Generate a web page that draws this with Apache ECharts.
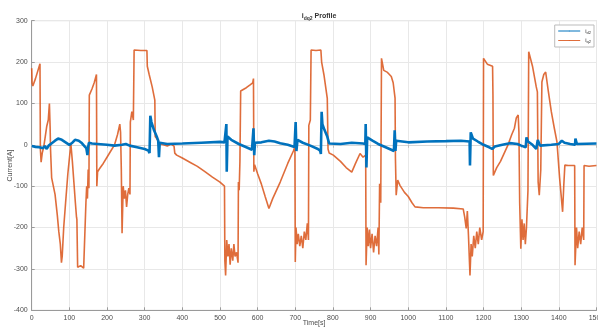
<!DOCTYPE html>
<html>
<head>
<meta charset="utf-8">
<script src="https://cdn.jsdelivr.net/npm/echarts@6/dist/echarts.min.js"></script>
<style>
  html, body { margin: 0; padding: 0; background: #fff; }
  #chart { width: 598px; height: 329px; }
</style>
</head>
<body>
<div id="chart"></div>
<script>
// tick labels
var xTicks = [0, 100, 200, 300, 400, 500, 600, 700, 800, 900, 1000, 1100, 1200, 1300, 1400, 1500];
var yTicks = [-400, -300, -200, -100, 0, 100, 200, 300];

// i_q2 (orange) : time / value
var qTime = [0, 1, 3, 10, 22, 23, 25, 28, 32, 36, 40, 44, 47, 49, 50, 53, 57, 62, 68, 72, 76, 79, 81, 85, 90, 96, 104,
  108, 112, 116, 119, 120, 122, 130, 138, 143, 144, 146, 148, 150, 152, 153, 160, 166, 172, 173, 175, 180, 190, 200,
  210, 220, 228, 234, 236, 238, 240, 243, 246, 249, 252, 255, 258, 261, 262, 266, 270, 272, 290, 306, 307, 312, 320,
  327, 328, 332, 336, 340, 350, 360, 370, 378, 380, 385, 400, 420, 440, 460, 480, 500, 512, 513, 515, 518, 521, 524,
  527, 530, 534, 537, 540, 544, 548, 549, 551, 553, 555, 560, 570, 580, 587, 589, 590, 592, 600, 610, 620, 630, 640,
  660, 680, 695, 699, 700, 702, 705, 708, 712, 716, 720, 724, 728, 732, 735, 736, 740, 742, 755, 768, 770, 776, 785,
  787, 790, 801, 820, 835, 850, 860, 872, 880, 887, 888, 891, 894, 897, 900, 904, 908, 912, 916, 920, 922, 924, 927,
  929, 935, 945, 955, 960, 965, 966, 968, 972, 978, 990, 1000, 1010, 1018, 1040, 1080, 1120, 1146, 1150, 1154, 1157,
  1160, 1164, 1167, 1170, 1174, 1178, 1182, 1186, 1190, 1195, 1199, 1200, 1210, 1224, 1225, 1226, 1235, 1245, 1255,
  1265, 1275, 1282, 1287, 1292, 1294, 1296, 1299, 1302, 1305, 1308, 1311, 1314, 1318, 1320, 1330, 1340, 1343, 1345,
  1348, 1352, 1355, 1360, 1365, 1372, 1380, 1388, 1395, 1402, 1410, 1413, 1416, 1425, 1442, 1443, 1447, 1450, 1454,
  1458, 1462, 1466, 1467, 1480, 1500];
var qVal = [185, 150, 142, 160, 196, -10, -42, -20, -5, 20, 45, 60, 100, 40, -10, -80, -78, -120, -170, -210, -240, -285,
  -270, -200, -140, -70, 3, -40, -90, -140, -175, -180, -296, -292, -298, -296, -140, -100, -130, -60, -105, 120, 135,
  150, 170, -100, -65, -58, -45, -30, -15, 0, 25, 50, 30, -60, -214, -100, -130, -110, -150, -120, -105, -120, 55, 80,
  60, 229, 228, 228, 190, 170, 140, 108, 20, 15, 8, 2, 0, -3, 2, -3, -20, -25, -32, -42, -52, -65, -78, -90, -100,
  -280, -316, -230, -270, -240, -290, -250, -280, -240, -270, -260, -285, -90, -110, -40, 130, 132, 138, 145, 150, 160,
  -65, -48, -70, -95, -125, -154, -130, -90, -45, -15, -5, -283, -200, -240, -215, -245, -220, -250, -210, -230, -190,
  -230, 47, 60, 229, 228, 229, 200, 170, 112, -10, -20, -25, -40, -55, -66, -45, -21, -30, -25, -291, -200, -245, -205,
  -250, -215, -260, -220, -245, -200, -265, -94, -140, 209, 180, 175, 165, 150, 113, -32, -122, -85, -98, -115, -125,
  -140, -150, -152, -152, -153, -155, -175, -202, -160, -220, -316, -240, -270, -220, -250, -210, -240, -200, -230,
  -210, 209, 195, 190, 120, -74, -55, -40, -20, 0, 25, 40, 65, 72, 30, -140, -251, -180, -230, -190, -240, -200, -110,
  225, 190, 140, 128, -90, -122, -60, 152, 170, 176, 130, 80, 40, 7, -80, -162, -100, -49, -50, -50, -291, -200, -250,
  -210, -240, -200, -230, -50, -52, -50];

// i_d2 (blue)
var dTime = [0, 10, 20, 25, 30, 35, 40, 45, 50, 55, 62, 70, 75, 80, 90, 100, 104, 108, 115, 120, 125, 132, 140, 145, 148,
  150, 152, 160, 175, 200, 220, 240, 250, 260, 280, 300, 310, 313, 315, 318, 325, 332, 336, 338, 340, 360, 400, 450,
  500, 512, 515, 517, 518, 520, 530, 550, 570, 585, 588, 589, 591, 593, 610, 630, 645, 660, 680, 698, 700, 701, 703,
  706, 720, 740, 760, 766, 768, 770, 772, 778, 785, 790, 820, 850, 880, 886, 887, 889, 891, 905, 920, 940, 955, 962,
  964, 966, 968, 1000, 1050, 1100, 1140, 1163, 1164, 1166, 1172, 1185, 1200, 1215, 1223, 1230, 1250, 1270, 1290, 1300,
  1312, 1314, 1318, 1330, 1340, 1344, 1350, 1380, 1400, 1408, 1415, 1430, 1443, 1444, 1448, 1500];
var dVal = [-3, -5, -6, -2, -8, -3, -10, -2, 0, 5, 10, 15, 18, 12, 6, 0, -2, 5, 12, 15, 10, 5, -3, -8, -25, -5, 5, 3, 2, 0,
  -2, 0, 2, -2, -6, -10, -14, -20, 70, 55, 35, 20, 10, -30, 5, 2, 3, 5, 7, 6, 8, 50, -65, 20, 12, 2, -6, -12, -15, 40,
  -25, 5, 6, 10, 8, 4, 0, -5, -8, 55, -15, 12, 5, -2, -10, -14, -22, 80, 50, 35, 20, 3, 2, 5, 3, 2, 50, -55, 18, 10, 2,
  -6, -12, -15, 35, -15, 10, 6, 8, 9, 10, 8, -50, 30, 15, 8, 0, -6, -10, -4, 0, 4, 2, -2, -6, 18, 8, 0, -10, 12, -2, 0,
  2, 10, 5, 2, 0, 15, 2, 3];

function pairs(t, v) {
    var out = [];
    for (var i = 0; i < t.length; i++) out.push([t[i], v[i]]);
    return out;
}

var chart = echarts.init(document.getElementById('chart'));

var labelFont = { color: '#4d4d4d', fontSize: 7, fontFamily: 'Liberation Sans' };
var gridLine = { show: true, lineStyle: { color: '#e8e8e8', width: 1 } };

var option = {
    animation: false,
    backgroundColor: '#fff',
    title: {
        text: '{b|i}{s|dq2}{b| Profile}',
        left: 314,
        textAlign: 'center',
        top: 6,
        textStyle: {
            rich: {
                b: { fontSize: 7, fontWeight: 'bold', color: '#333', fontFamily: 'Liberation Sans' },
                s: { fontSize: 5, fontWeight: 'bold', color: '#333', fontFamily: 'Liberation Sans', padding: [5, 0, 0, 0] }
            }
        }
    },
    legend: {
        right: 4,
        top: 25,
        orient: 'vertical',
        itemWidth: 22,
        itemHeight: 1,
        itemGap: 3,
        padding: [3, 3, 3, 3],
        borderColor: '#bbb',
        borderWidth: 1,
        backgroundColor: '#fff',
        lineStyle: { width: 1 },
        data: ['d', 'q'],
        formatter: function (name) { return '{i|i}{s|' + name + '2}'; },
        textStyle: {
            rich: {
                i: { fontSize: 6, color: '#333', fontFamily: 'Liberation Sans' },
                s: { fontSize: 4, color: '#333', fontFamily: 'Liberation Sans', padding: [3, 0, 0, 0] }
            }
        }
    },
    grid: {
        left: 31.7,
        right: 1.5,
        top: 20.7,
        bottom: 18.7,
        containLabel: false,
        outerBoundsMode: 'none',
        show: true,
        borderColor: '#d6d6d6',
        borderWidth: 1
    },
    xAxis: [{
        type: 'value',
        min: 0,
        max: 1500,
        interval: 100,
        name: 'Time[s]',
        nameLocation: 'middle',
        nameGap: 9,
        nameMoveOverlap: false,
        nameTextStyle: { color: '#4d4d4d', fontSize: 7, fontFamily: 'Liberation Sans' },
        axisLine: { show: true, onZero: false, lineStyle: { color: '#9a9a9a' } },
        axisTick: { show: true, inside: true, length: 3, lineStyle: { color: '#9a9a9a' } },
        axisLabel: Object.assign({ margin: 4, showMaxLabel: true, formatter: function (v) { return String(v); } }, labelFont),
        splitLine: gridLine
    }, {
        type: 'value',
        position: 'top',
        min: 0,
        max: 1500,
        interval: 100,
        axisLine: { show: true, lineStyle: { color: '#d6d6d6' } },
        axisTick: { show: true, inside: true, length: 3, lineStyle: { color: '#c0c0c0' } },
        axisLabel: { show: false },
        splitLine: { show: false }
    }],
    yAxis: {
        type: 'value',
        min: -400,
        max: 300,
        interval: 100,
        name: 'Current[A]',
        nameLocation: 'middle',
        nameGap: 18,
        nameMoveOverlap: false,
        nameTextStyle: { color: '#4d4d4d', fontSize: 7, fontFamily: 'Liberation Sans' },
        axisLine: { show: true, lineStyle: { color: '#9a9a9a' } },
        axisTick: { show: true, inside: true, length: 3, lineStyle: { color: '#9a9a9a' } },
        axisLabel: Object.assign({ margin: 4 }, labelFont),
        splitLine: gridLine
    },
    series: [{
        name: 'q',
        type: 'line',
        data: pairs(qTime, qVal),
        showSymbol: false,
        symbol: 'none',
        color: '#D95319',
        lineStyle: { color: '#D95319', width: 1.6, opacity: 0.85 },
        z: 2
    }, {
        name: 'd',
        type: 'line',
        data: pairs(dTime, dVal),
        showSymbol: false,
        symbol: 'none',
        color: '#0072BD',
        lineStyle: { color: '#0072BD', width: 2.6 },
        z: 3
    }]
};

chart.setOption(option);
</script>
</body>
</html>
